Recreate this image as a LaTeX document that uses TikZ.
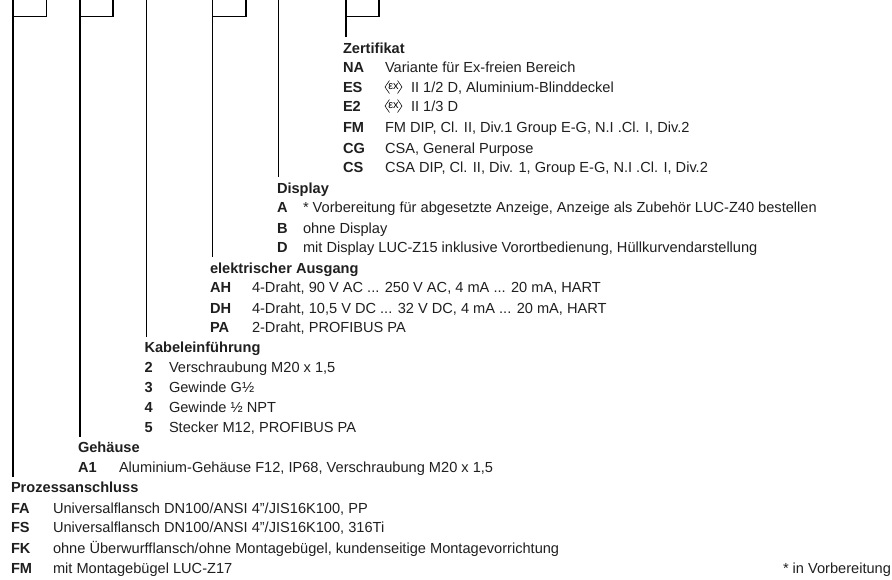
\documentclass[tikz,border=0pt]{standalone}
\usepackage{fontspec}
\setmainfont{Liberation Sans}
\tikzset{
 txt/.style={anchor=base west,inner sep=0pt,outer sep=0pt,font=\fontsize{14.6}{16}\selectfont,text=black!88},
 head/.style={txt,font=\fontsize{14.6}{16}\selectfont\bfseries},
 conn/.style={line width=1.5pt,line cap=butt,line join=miter},
 exmark/.pic={\draw[line width=.55pt] (-4,-6.5) -- (-8.5,0) -- (-4,6.5) (4,-6.5) -- (8.5,0) -- (4,6.5);
   \node[inner sep=0pt,font=\fontsize{11}{12}\selectfont] at (0,-0.6) {εx};}
}
\newcommand{\ent}[6]{% name, key x, text x, baseline y, key, text
 \node[head] (#1k) at (#2,#4) {#5};
 \node[txt] (#1t) at (#3,#4) {#6};}
\begin{document}
\begin{tikzpicture}[x=1pt,y=-1pt]
\useasboundingbox (0,0) rectangle (892,579);
% Zertifikat
\node[head] (hZ) at (343,53) {Zertifikat};
\ent{za}{343}{385}{72}{NA}{Variante für Ex-freien Bereich}
\ent{zb}{343}{411}{92}{ES}{II 1/2 D, Aluminium-Blinddeckel}
\ent{zc}{343}{411}{111}{E2}{II 1/3 D}
\ent{zd}{343}{385}{132}{FM}{FM DIP, Cl. II, Div.1 Group E-G, N.I .Cl. I, Div.2}
\ent{ze}{343}{385}{153}{CG}{CSA, General Purpose}
\ent{zf}{343}{385}{172}{CS}{CSA DIP, Cl. II, Div. 1, Group E-G, N.I .Cl. I, Div.2}
\path (393.5,87) pic (exa) {exmark};
\path (393.5,106) pic (exb) {exmark};
% Display
\node[head] (hD) at (277,193) {Display};
\ent{da}{277}{303}{212}{A}{* Vorbereitung für abgesetzte Anzeige, Anzeige als Zubehör LUC-Z40 bestellen}
\ent{db}{277}{303}{233}{B}{ohne Display}
\ent{dc}{277}{303}{252}{D}{mit Display LUC-Z15 inklusive Vorortbedienung, Hüllkurvendarstellung}
% Ausgang
\node[head] (hA) at (210,273) {elektrischer Ausgang};
\ent{aa}{210}{252}{292}{AH}{4-Draht, 90 V AC ... 250 V AC, 4 mA ... 20 mA, HART}
\ent{ab}{210}{252}{313}{DH}{4-Draht, 10,5 V DC ... 32 V DC, 4 mA ... 20 mA, HART}
\ent{ac}{210}{252}{332}{PA}{2-Draht, PROFIBUS PA}
% Kabel
\node[head] (hK) at (144.5,352) {Kabeleinführung};
\ent{ka}{144.5}{169}{372}{2}{Verschraubung M20 x 1,5}
\ent{kb}{144.5}{169}{392}{3}{Gewinde G½}
\ent{kc}{144.5}{169}{412}{4}{Gewinde ½ NPT}
\ent{kd}{144.5}{169}{432}{5}{Stecker M12, PROFIBUS PA}
% Gehaeuse
\node[head] (hG) at (78,452) {Gehäuse};
\ent{ga}{78}{119}{472}{A1}{Aluminium-Gehäuse F12, IP68, Verschraubung M20 x 1,5}
% Prozess
\node[head] (hP) at (11,492) {Prozessanschluss};
\ent{pa}{11}{53}{513}{FA}{Universalflansch DN100/ANSI 4"/JIS16K100, PP}
\ent{pb}{11}{53}{532}{FS}{Universalflansch DN100/ANSI 4"/JIS16K100, 316Ti}
\ent{pc}{11}{53}{553}{FK}{ohne Überwurfflansch/ohne Montagebügel, kundenseitige Montagevorrichtung}
\ent{pd}{11}{53}{573}{FM}{mit Montagebügel LUC-Z17}
\node[txt] (note) at (783,573) {* in Vorbereitung};
% connectors
\coordinate (p1) at (46.7,0); \coordinate (p2) at (13,0); \coordinate (pe) at (13,477);
\coordinate (g1) at (113,0); \coordinate (g2) at (80,0); \coordinate (ge) at (80,437);
\coordinate (ke0) at (146.7,0); \coordinate (ke) at (146.7,337);
\coordinate (a1) at (246,0); \coordinate (a2) at (212.7,0); \coordinate (ae) at (212.7,257);
\coordinate (de0) at (278.7,0); \coordinate (de) at (278.7,177);
\coordinate (z1) at (379,0); \coordinate (z2) at (346,0); \coordinate (ze) at (346,37);
\draw[conn] (p1) |- (13,16.3) (p2) -- (pe);
\draw[conn] (g1) |- (80,16.3) (g2) -- (ge);
\draw[conn] (ke0) -- (ke);
\draw[conn] (a1) |- (212.7,16.3) (a2) -- (ae);
\draw[conn] (de0) -- (de);
\draw[conn] (z1) |- (346,16.3) (z2) -- (ze);
\end{tikzpicture}
\end{document}
